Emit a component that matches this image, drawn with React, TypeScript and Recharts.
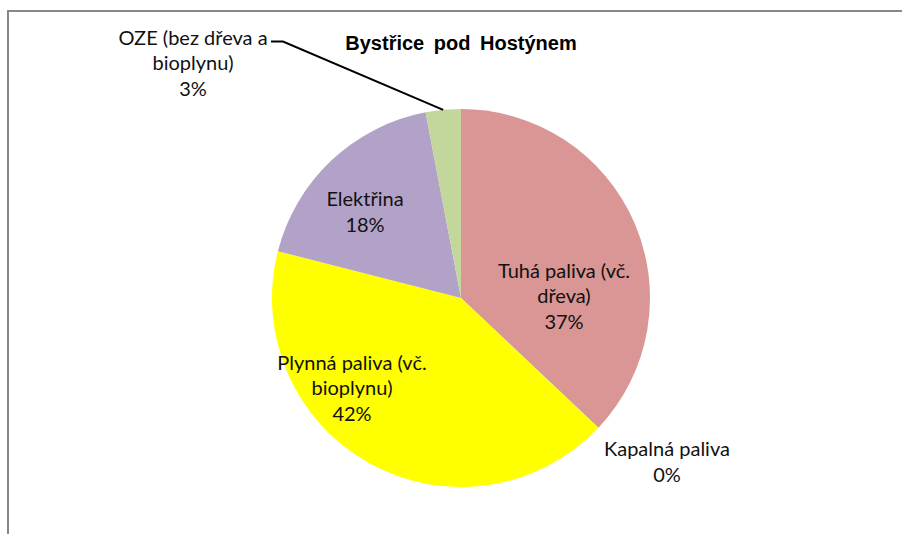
import React from 'react';
import { PieChart, Pie, Cell } from 'recharts';

// energy mix, share of fuels (%)
const categories = [
  'Tuhá paliva (vč. dřeva)',
  'Kapalná paliva',
  'Plynná paliva (vč. bioplynu)',
  'Elektřina',
  'OZE (bez dřeva a bioplynu)',
];
const shares = [37.0, 0.02, 41.9, 18.0, 3.0];
const labelLines = [
  ['Tuhá paliva (vč.', 'dřeva)'],
  ['Kapalná paliva'],
  ['Plynná paliva (vč.', 'bioplynu)'],
  ['Elektřina'],
  ['OZE (bez dřeva a', 'bioplynu)'],
];
const COLORS = ['#D99694', '#95B3D7', '#FFFF00', '#B3A2C7', '#C3D69B'];

// label block centres, offset from the pie centre
const LABEL_OFFSETS: [number, number][] = [
  [103, -3],
  [206, 163],
  [-109, 89],
  [-96, -87],
  [-268, -236],
];
const LINE_H = 25.5;

const data = categories.map((name, i) => ({ name, value: shares[i] }));

const renderLabel = (props: any) => {
  const { cx, cy, index, percent, midAngle, outerRadius } = props;
  const lines = [...labelLines[index], `${Math.round(percent * 100)}%`];
  const [ox, oy] = LABEL_OFFSETS[index];
  const x = cx + ox;
  const top = cy + oy - ((lines.length - 1) * LINE_H) / 2;
  let leader = null;
  if (index === 4) {
    // leader line from the label to the slice edge
    const rad = (-midAngle * Math.PI) / 180;
    const ex = cx + outerRadius * Math.cos(rad);
    const ey = cy + outerRadius * Math.sin(rad);
    const sy = top + 5;
    leader = (
      <polyline
        points={`${x + 78},${sy} ${x + 90},${sy} ${ex},${ey}`}
        fill="none"
        stroke="#000"
        strokeWidth={2}
      />
    );
  }
  return (
    <g key={`lbl-${index}`}>
      {leader}
      {lines.map((t, j) => (
        <text
          key={j}
          x={x}
          y={top + j * LINE_H}
          textAnchor="middle"
          dominantBaseline="central"
          fontFamily="Lato, sans-serif"
          fontSize={20}
          fill="#111"
        >
          {t}
        </text>
      ))}
    </g>
  );
};

export default function App() {
  return (
    <div style={{ position: 'absolute', left: 0, top: 0, width: 902, height: 534, background: '#fff' }}>
      <div
        style={{
          position: 'absolute',
          left: 7,
          top: 10,
          width: 902,
          height: 540,
          borderLeft: '2px solid #888',
          borderTop: '2px solid #888',
        }}
      />
      <div style={{ position: 'absolute', left: 0, top: 0 }}>
        <PieChart width={902} height={534} margin={{ top: 0, right: 0, bottom: 0, left: 0 }}>
          <text
            x={461}
            y={43}
            textAnchor="middle"
            dominantBaseline="central"
            fontFamily="'Liberation Sans', Arial, sans-serif"
            fontWeight="bold"
            fontSize={20}
            fill="#000"
            style={{ wordSpacing: 4 }}
          >
            Bystřice pod Hostýnem
          </text>
          <Pie
            data={data}
            dataKey="value"
            nameKey="name"
            cx={461}
            cy={298}
            outerRadius={189}
            startAngle={90}
            endAngle={-270}
            stroke="none"
            label={renderLabel}
            labelLine={false}
            isAnimationActive={false}
          >
            {data.map((d, i) => (
              <Cell key={d.name} fill={COLORS[i]} />
            ))}
          </Pie>
        </PieChart>
      </div>
    </div>
  );
}
